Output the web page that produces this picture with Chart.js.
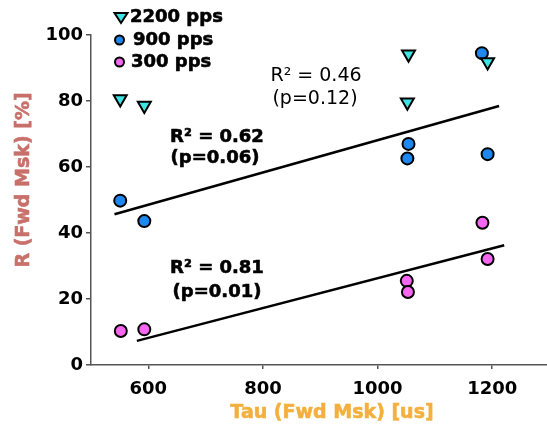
<!DOCTYPE html>
<html>
<head>
<meta charset="utf-8">
<script src="https://cdn.jsdelivr.net/npm/chart.js@4.4.0/dist/chart.umd.min.js"></script>
<style>
  html, body { margin: 0; padding: 0; background: #fff; overflow: hidden; }
</style>
</head>
<body>
<canvas id="myChart" width="559" height="424"></canvas>
<script>
// data
var tau2200 = [551, 593, 1054, 1052, 1192];
var r2200 = [80.6, 78.6, 94.2, 79.6, 91.8];
var tau900 = [551, 593, 1054, 1052, 1192, 1182];
var r900 = [49.8, 43.6, 67, 62.6, 63.9, 94.5];
var tau300 = [552, 593, 1051, 1053, 1183, 1192];
var r300 = [10.3, 10.8, 25.5, 22.1, 43.1, 32.1];

// fitted lines (end points)
var fit900Tau = [541, 1212];
var fit900R = [45.7, 78.5];
var fit300Tau = [580, 1221];
var fit300R = [7.3, 36.3];

var xTicks = [600, 800, 1000, 1200];
var yTicks = [0, 20, 40, 60, 80, 100];

var seriesNames = ['2200 pps', '900 pps', '300 pps'];
var seriesColors = ['#3fe3e3', '#1e88f0', '#f766f0'];

function pts(xs, ys) {
  return xs.map(function (x, i) { return { x: x, y: ys[i] }; });
}

var boldFont = 'bold 18px "DejaVu Sans"';

// bold text with a thin outline so it looks heavier
function heavyText(ctx, txt, x, y) {
  ctx.fillText(txt, x, y);
  ctx.strokeText(txt, x, y);
}

// legend + annotations + axis titles
var textPlugin = {
  id: 'texts',
  afterDraw: function (chart) {
    var ctx = chart.ctx;
    ctx.save();
    // legend
    ctx.lineWidth = 2;
    ctx.strokeStyle = '#000';
    ctx.fillStyle = seriesColors[0];
    ctx.beginPath();
    ctx.moveTo(114.5, 13); ctx.lineTo(127.5, 13); ctx.lineTo(121, 23); ctx.closePath();
    ctx.fill(); ctx.stroke();
    [[1, 40], [2, 62]].forEach(function (p) {
      ctx.fillStyle = seriesColors[p[0]];
      ctx.beginPath();
      ctx.arc(119.5, p[1], 4.5, 0, Math.PI * 2);
      ctx.fill(); ctx.stroke();
    });
    ctx.fillStyle = '#000';
    ctx.strokeStyle = '#000';
    ctx.lineWidth = 0.6;
    ctx.font = boldFont;
    ctx.textBaseline = 'middle';
    ctx.textAlign = 'left';
    heavyText(ctx, seriesNames[0], 130, 17);
    heavyText(ctx, seriesNames[1], 133, 40);
    heavyText(ctx, seriesNames[2], 131, 62);

    // R^2 labels
    ctx.textAlign = 'center';
    ctx.font = '19px "DejaVu Sans"';
    ctx.fillText('R\u00b2 = 0.46', 316, 76);
    ctx.fillText('(p=0.12)', 315, 99);
    ctx.font = boldFont;
    heavyText(ctx, 'R\u00b2 = 0.62', 217, 137);
    heavyText(ctx, '(p=0.06)', 215, 158);
    heavyText(ctx, 'R\u00b2 = 0.81', 217, 268);
    heavyText(ctx, '(p=0.01)', 217, 292);

    // axis titles
    ctx.font = 'bold 19px "DejaVu Sans"';
    ctx.fillStyle = '#f4b03e';
    ctx.strokeStyle = '#f4b03e';
    heavyText(ctx, 'Tau (Fwd Msk) [us]', 332, 413);
    ctx.translate(24, 180);
    ctx.rotate(-Math.PI / 2);
    ctx.fillStyle = '#c8706a';
    ctx.strokeStyle = '#c8706a';
    heavyText(ctx, 'R (Fwd Msk) [%]', 0, 0);
    ctx.restore();
  }
};

var tickFont = { family: 'DejaVu Sans', size: 18, weight: 'bold' };

var config = {
  type: 'scatter',
  data: {
    datasets: [
      {
        label: 'fit 900',
        type: 'line',
        data: pts(fit900Tau, fit900R),
        borderColor: '#000',
        borderWidth: 2.5,
        pointRadius: 0,
        order: 5
      },
      {
        label: 'fit 300',
        type: 'line',
        data: pts(fit300Tau, fit300R),
        borderColor: '#000',
        borderWidth: 2.5,
        pointRadius: 0,
        order: 5
      },
      {
        label: seriesNames[0],
        data: pts(tau2200, r2200),
        pointStyle: 'triangle',
        rotation: 180,
        pointRadius: 7.5,
        backgroundColor: seriesColors[0],
        borderColor: '#000',
        borderWidth: 2,
        order: 1
      },
      {
        label: seriesNames[1],
        data: pts(tau900, r900),
        pointRadius: 6,
        backgroundColor: seriesColors[1],
        borderColor: '#000',
        borderWidth: 2,
        order: 1
      },
      {
        label: seriesNames[2],
        data: pts(tau300, r300),
        pointRadius: 6,
        backgroundColor: seriesColors[2],
        borderColor: '#000',
        borderWidth: 2,
        order: 1
      }
    ]
  },
  options: {
    responsive: false,
    animation: false,
    layout: { padding: { top: 35, right: 2, left: 0, bottom: 0 } },
    plugins: {
      legend: { display: false },
      tooltip: { enabled: false }
    },
    scales: {
      x: {
        type: 'linear',
        min: 500,
        max: 1300,
        afterBuildTicks: function (scale) {
          scale.ticks = xTicks.map(function (v) { return { value: v }; });
        },
        afterFit: function (scale) {
          scale.height = 59;
          scale.paddingLeft = 0;
          scale.paddingRight = 0;
        },
        grid: { drawOnChartArea: false, drawTicks: true, tickLength: 4, color: '#555', lineWidth: 1.5 },
        border: { display: true, color: '#555', width: 1.5 },
        ticks: {
          color: '#000', font: tickFont, padding: 10,
          callback: function (v) { return String(v); }
        }
      },
      y: {
        type: 'linear',
        min: 0,
        max: 100,
        afterBuildTicks: function (scale) {
          scale.ticks = yTicks.map(function (v) { return { value: v }; });
        },
        afterFit: function (scale) {
          scale.width = 91;
          scale.paddingTop = 0;
          scale.paddingBottom = 0;
        },
        grid: { drawOnChartArea: false, drawTicks: true, tickLength: 5, color: '#555', lineWidth: 1.5 },
        border: { display: true, color: '#555', width: 1.5 },
        ticks: { color: '#000', font: tickFont, padding: 3 }
      }
    }
  },
  plugins: [textPlugin]
};

var myChart = new Chart(document.getElementById('myChart'), config);
</script>
</body>
</html>
